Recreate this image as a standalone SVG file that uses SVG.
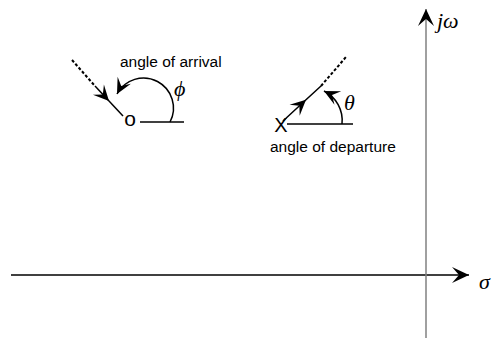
<svg xmlns="http://www.w3.org/2000/svg" width="493" height="340" viewBox="0 0 493 340">
<style>
.lbl{font-family:"Liberation Sans",Arial,sans-serif;font-size:15.5px;fill:#000}
.sym{font-family:"Liberation Serif","Times New Roman",serif;font-style:italic;font-size:22px;fill:#000}
.mk{font-family:"Liberation Sans",Arial,sans-serif;fill:#000}
.ln{stroke:#000;stroke-width:1.5;fill:none}
.dash{stroke:#000;stroke-width:2;fill:none;stroke-dasharray:3 2}
</style>
<defs>
<marker id="big" markerUnits="userSpaceOnUse" markerWidth="20" markerHeight="20" refX="0" refY="0" viewBox="-18 -9 20 18" orient="auto" overflow="visible">
<path d="M0,0 L-17,-8 L-10,0 L-17,8 Z" fill="#000"/>
</marker>
<marker id="sm" markerUnits="userSpaceOnUse" markerWidth="18" markerHeight="18" refX="0" refY="0" viewBox="-16 -8 18 16" orient="auto" overflow="visible">
<path d="M0,0 L-15.5,-7.5 L-9,0 L-15.5,7.5 Z" fill="#000"/>
</marker>
</defs>
<g id="connectors">
<line x1="11" y1="275" x2="469" y2="275" class="ln" marker-end="url(#big)"/>
<line x1="426" y1="338" x2="426" y2="9" stroke="#808080" stroke-width="1.5" marker-end="url(#big)"/>
<line x1="72" y1="60" x2="95" y2="86" class="dash"/>
<polyline points="95,86 109,101 123,116" class="ln" marker-mid="url(#sm)"/>
<line x1="140" y1="122" x2="184" y2="122" class="ln"/>
<path d="M170,122 A29,29 0 0 0 117,94" class="ln" marker-end="url(#sm)"/>
<polyline points="283,121 306,99.7 321,86" class="ln" marker-mid="url(#sm)"/>
<line x1="321" y1="86" x2="346" y2="57" class="dash"/>
<line x1="287" y1="124" x2="353" y2="124" class="ln"/>
<path d="M342,124 A33,33 0 0 0 324,91" class="ln" marker-end="url(#sm)"/>
</g>
<g id="zero">
<text x="130" y="126" class="mk" font-size="21" text-anchor="middle">o</text>
<text x="120" y="67" class="lbl">angle of arrival</text>
<text x="174" y="96" class="sym">ϕ</text>
</g>
<g id="pole">
<text x="281" y="132" class="mk" font-size="20" text-anchor="middle">X</text>
<text x="270" y="152" class="lbl">angle of departure</text>
<text x="344" y="110" class="sym">θ</text>
</g>
<g id="axes-labels">
<text x="437" y="28" class="sym">jω</text>
<text x="479" y="289" class="sym">σ</text>
</g>
</svg>
